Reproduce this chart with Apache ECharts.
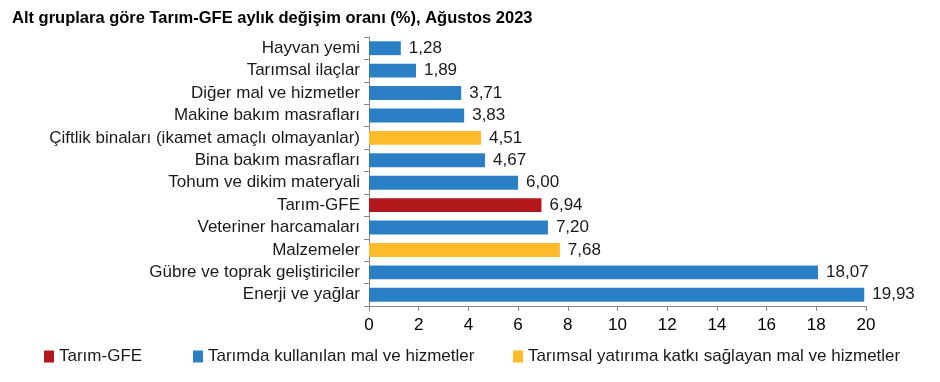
<!DOCTYPE html>
<html><head><meta charset="utf-8">
<script src="https://cdn.jsdelivr.net/npm/echarts@6/dist/echarts.min.js"></script>
<style>html,body{margin:0;padding:0;background:#fff}#c{width:940px;height:382px}</style>
</head><body><div id="c"></div>
<script>
const categories = ["Hayvan yemi","Tarımsal ilaçlar","Diğer mal ve hizmetler","Makine bakım masrafları","Çiftlik binaları (ikamet amaçlı olmayanlar)","Bina bakım masrafları","Tohum ve dikim materyali","Tarım-GFE","Veteriner harcamaları","Malzemeler","Gübre ve toprak geliştiriciler","Enerji ve yağlar"];
const values = [1.28,1.89,3.71,3.83,4.51,4.67,6.00,6.94,7.20,7.68,18.07,19.93];
const groups = ["B","B","B","B","Y","B","B","R","B","Y","B","B"];
const seriesNames = {R:"Tarım-GFE",B:"Tarımda kullanılan mal ve hizmetler",Y:"Tarımsal yatırıma katkı sağlayan mal ve hizmetler"};
const xTicks = {min:0,max:20,interval:2};
const colors = {R:"#B2171B",B:"#2B80C5",Y:"#FDBB2B"};
const font = "Liberation Sans, Arial, sans-serif";

function mk(key){
  return {
    name: seriesNames[key], type:'bar', stack:'s', barCategoryGap:'38%',
    itemStyle:{color:colors[key]},
    data: values.map((v,i)=> groups[i]===key ? v : null),
    label:{show:true, position:'right', distance:8, color:'#1a1a1a', fontSize:17, fontFamily:font,
      formatter: p => p.value==null ? '' : p.value.toFixed(2).replace('.',',')}
  };
}
const chart = echarts.init(document.getElementById('c'));
const legendBase = {top:348, itemWidth:10, itemHeight:12, itemGap:6, icon:'rect', textStyle:{fontSize:17, fontFamily:font, color:'#1a1a1a'}, selectedMode:false, padding:0};
chart.setOption({
  animation:false,
  title:{text:"Alt gruplara göre Tarım-GFE aylık değişim oranı (%), Ağustos 2023", left:12, top:10, padding:0,
    textStyle:{fontSize:16.5, fontWeight:'bold', fontFamily:font, color:'#000'}},
  legend:[
    Object.assign({}, legendBase, {left:44, data:[seriesNames.R]}),
    Object.assign({}, legendBase, {left:193, data:[seriesNames.B]}),
    Object.assign({}, legendBase, {left:513, data:[seriesNames.Y]})
  ],
  grid:{left:369, right:74, top:37, height:269, containLabel:false},
  xAxis:{type:'value', min:xTicks.min, max:xTicks.max, interval:xTicks.interval,
    axisLine:{show:true, lineStyle:{color:'#888'}}, axisTick:{show:true, length:5, lineStyle:{color:'#888'}},
    splitLine:{show:false},
    axisLabel:{color:'#000', fontSize:17, fontFamily:font, margin:11}},
  yAxis:{type:'category', inverse:true, data:categories,
    axisLine:{show:true, lineStyle:{color:'#888'}}, axisTick:{show:true, length:5, lineStyle:{color:'#888'}},
    axisLabel:{color:'#1a1a1a', fontSize:17, fontFamily:font, margin:9}},
  series:[mk('R'), mk('B'), mk('Y')]
});
</script></body></html>
